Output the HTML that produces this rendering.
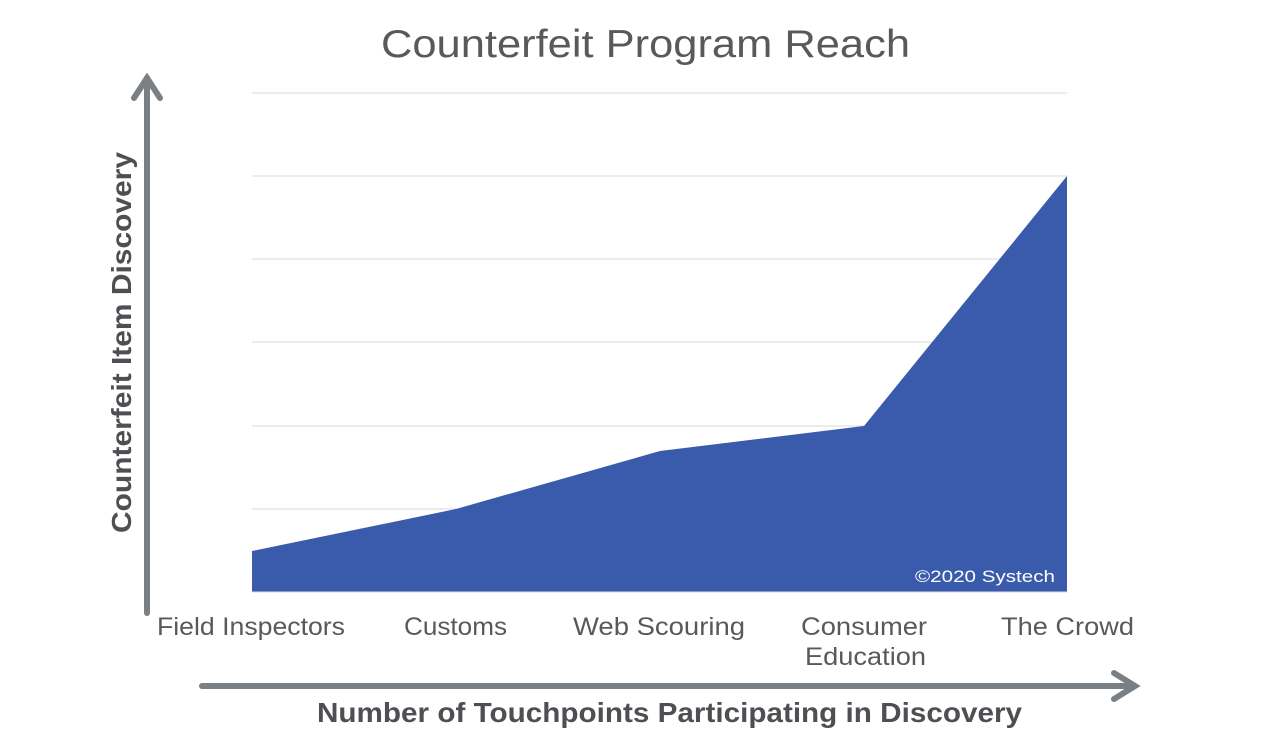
<!DOCTYPE html>
<html><head><style>body{margin:0;background:#fff}svg{display:block}</style></head><body>
<svg width="1262" height="756" xmlns="http://www.w3.org/2000/svg" font-family="Liberation Sans, sans-serif">
<rect width="1262" height="756" fill="#fff"/>
<text x="381" y="57" textLength="529" lengthAdjust="spacingAndGlyphs" font-size="39" fill="#595959">Counterfeit Program Reach</text>
<g stroke="#d9d9d9" stroke-width="1">
<line x1="252" y1="93" x2="1067" y2="93"/><line x1="252" y1="176" x2="1067" y2="176"/>
<line x1="252" y1="259" x2="1067" y2="259"/><line x1="252" y1="342" x2="1067" y2="342"/>
<line x1="252" y1="426" x2="1067" y2="426"/><line x1="252" y1="509" x2="1067" y2="509"/>
</g>
<polygon points="252,551 456,509 660,451 864,426 1067,176 1067,592 252,592" fill="#3a5aab"/>
<line x1="252" y1="592" x2="1067" y2="592" stroke="#d9d9d9"/>
<text x="915" y="582" textLength="140" lengthAdjust="spacingAndGlyphs" font-size="17" fill="#fff">©2020 Systech</text>
<g stroke="#7a7f84" stroke-width="6" fill="none" stroke-linecap="round">
<line x1="147" y1="78" x2="147" y2="613"/>
<polyline points="134,98 147,78 160,98"/>
<line x1="202" y1="686" x2="1134" y2="686"/>
<polyline points="1114,673 1135,686 1114,699"/>
</g>
<g font-size="25" fill="#595959" lengthAdjust="spacingAndGlyphs">
<text x="157" y="635" textLength="188" lengthAdjust="spacingAndGlyphs">Field Inspectors</text>
<text x="404" y="635" textLength="103" lengthAdjust="spacingAndGlyphs">Customs</text>
<text x="573" y="635" textLength="172" lengthAdjust="spacingAndGlyphs">Web Scouring</text>
<text x="801" y="635" textLength="126" lengthAdjust="spacingAndGlyphs">Consumer</text>
<text x="805" y="665" textLength="121" lengthAdjust="spacingAndGlyphs">Education</text>
<text x="1001" y="635" textLength="133" lengthAdjust="spacingAndGlyphs">The Crowd</text>
</g>
<text x="317" y="722" textLength="705" lengthAdjust="spacingAndGlyphs" font-size="28" font-weight="bold" fill="#4d4f52">Number of Touchpoints Participating in Discovery</text>
<text transform="translate(131,533) rotate(-90)" textLength="381" lengthAdjust="spacingAndGlyphs" font-size="28" font-weight="bold" fill="#4d4f52">Counterfeit Item Discovery</text>
</svg>
</body></html>
